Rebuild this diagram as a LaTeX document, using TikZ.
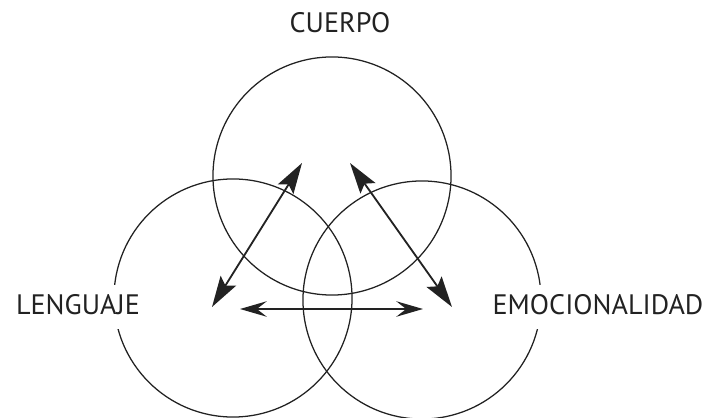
\documentclass[tikz,border=0pt]{standalone}
\usepackage{fontspec}
\setmainfont{PT Sans}
\usetikzlibrary{arrows.meta}
\definecolor{inkgray}{HTML}{222222}

\tikzset{
  ring/.style={draw=inkgray, circle, line width=0.9pt, minimum size=5.95cm, inner sep=0pt},
  label/.style={fill=white, inner xsep=3pt, inner ysep=7pt, text height=14pt, text depth=3.5pt,
    font=\fontsize{20}{24}\selectfont, text=inkgray},
  link/.style={draw=inkgray, line width=1.3pt, {Stealth[length=22pt, width=13pt, inset=4pt]}-{Stealth[length=22pt, width=13pt, inset=4pt]}},
  flat/.style={draw=inkgray, line width=1.4pt, {Stealth[length=19pt, width=11pt, inset=7pt]}-{Stealth[length=19pt, width=11pt, inset=7pt]}}
}

\begin{document}
\begin{tikzpicture}[x=0.025cm, y=-0.025cm]
  \useasboundingbox (0,0) rectangle (709,418);
  % the three fields
  \node[ring] (ccuerpo) at (332,176) {};
  \node[ring] (clenguaje) at (233,298) {};
  \node[ring] (cemocion) at (422,300) {};
  % labels, they cut the rings
  \node[label] (cuerpo) at (340,25) {CUERPO};
  \node[label] (lenguaje) at (78,307) {LENGUAJE};
  \node[label] (emocion) at (598,307) {EMOCIONALIDAD};
  % ends of the arrows
  \coordinate (l1) at (212,307);
  \coordinate (l2) at (302,163);
  \coordinate (r1) at (350,163);
  \coordinate (r2) at (452,307);
  \coordinate (h1) at (240,309);
  \coordinate (h2) at (423,309);
  \path[link] (l1) -- (l2);
  \path[link] (r1) -- (r2);
  \path[flat] (h1) -- (h2);
\end{tikzpicture}
\end{document}
